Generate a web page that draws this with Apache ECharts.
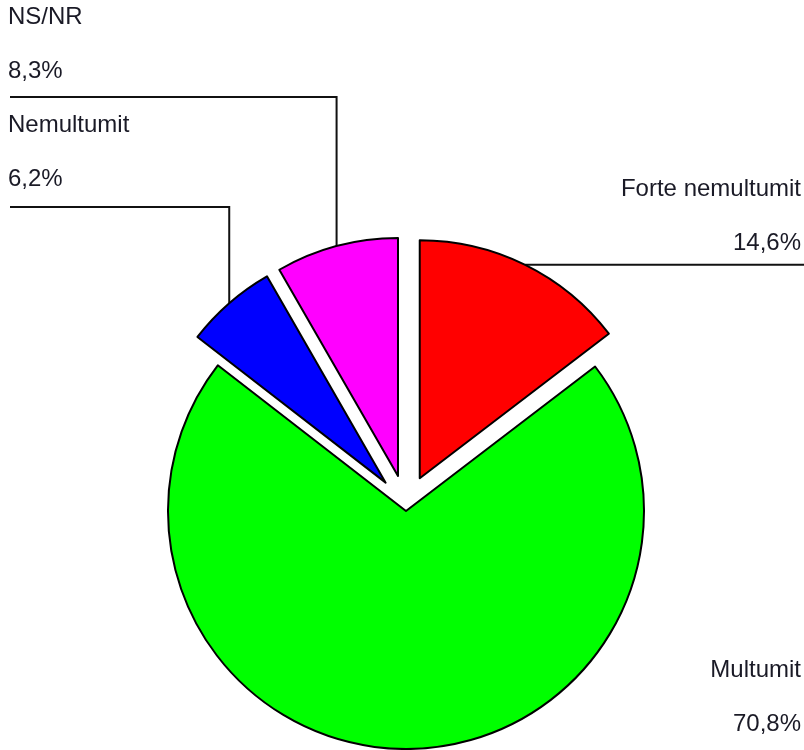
<!DOCTYPE html>
<html>
<head>
<meta charset="utf-8">
<script src="https://cdn.jsdelivr.net/npm/echarts@6/dist/echarts.min.js"></script>
<style>
html, body { margin: 0; padding: 0; background: #fff; }
#chart { width: 804px; height: 750px; }
</style>
</head>
<body>
<div id="chart"></div>
<script>
// pie data, clockwise from 12 o'clock
const categories = ['Forte nemultumit', 'Multumit', 'Nemultumit', 'NS/NR']
const shares = [14.6, 70.8, 6.2, 8.3]
const colors = ['#ff0000', '#00ff00', '#0000ff', '#ff00ff']

const chart = echarts.init(document.getElementById('chart'), null, { renderer: 'canvas' })

const baseX = 406
const baseY = 506
const radius = 238
const explode = [31, 5, 31, 31] // how far each slice is pulled out
const textColor = '#1a1a26'
const font = "'Liberation Sans', Arial, sans-serif"

// where each label sits and where its leader line turns
const labelPos = [
    { x: 801, y: 216, align: 'right', lineY: null },
    { x: 801, y: 697, align: 'right', lineY: null },
    { x: 8, y: 152, align: 'left', lineY: 207 },
    { x: 8, y: 44, align: 'left', lineY: 97 }
]

const total = shares.reduce((a, b) => a + b, 0)
let acc = 0
const midAngles = shares.map(v => {
    const a = (acc + v / 2) / total * Math.PI * 2
    acc += v
    return a
})

function fmt(v) {
    return v.toFixed(1).replace('.', ',') + '%'
}

const series = categories.map((name, i) => {
    const a = midAngles[i]
    const cx = baseX + Math.sin(a) * explode[i]
    const cy = baseY - Math.cos(a) * explode[i]
    // point on the outer arc at the slice middle
    const px = cx + Math.sin(a) * radius
    const py = cy - Math.cos(a) * radius
    return {
        type: 'pie',
        silent: true,
        animation: false,
        center: [cx, cy],
        radius: [0, radius],
        startAngle: 90,
        clockwise: true,
        avoidLabelOverlap: false,
        emphasis: { disabled: true },
        data: categories.map((n, j) => {
            const on = j === i
            return {
                name: n,
                value: shares[j],
                itemStyle: on
                    ? { color: colors[j], borderColor: '#000', borderWidth: 2 }
                    : { color: 'rgba(0,0,0,0)', borderWidth: 0 },
                label: { show: on },
                labelLine: { show: on && i !== 1 }
            }
        }),
        label: {
            position: 'outside',
            formatter: p => p.name + '\n' + fmt(p.value),
            color: textColor,
            fontFamily: font,
            fontSize: 24,
            lineHeight: 54
        },
        labelLine: {
            lineStyle: { color: '#111', width: 2 }
        },
        labelLayout: params => {
            if (params.dataIndex !== i) return
            const lp = labelPos[i]
            const out = {
                x: lp.x,
                y: lp.y,
                align: lp.align,
                verticalAlign: 'middle'
            }
            if (i === 0) {
                out.labelLinePoints = [[px, py], [px + 1, py], [804, py]]
            } else if (lp.lineY !== null) {
                out.labelLinePoints = [[px, py], [px, lp.lineY], [10, lp.lineY]]
            }
            return out
        }
    }
})

chart.setOption({
    backgroundColor: '#fff',
    animation: false,
    series: series
})
</script>
</body>
</html>
